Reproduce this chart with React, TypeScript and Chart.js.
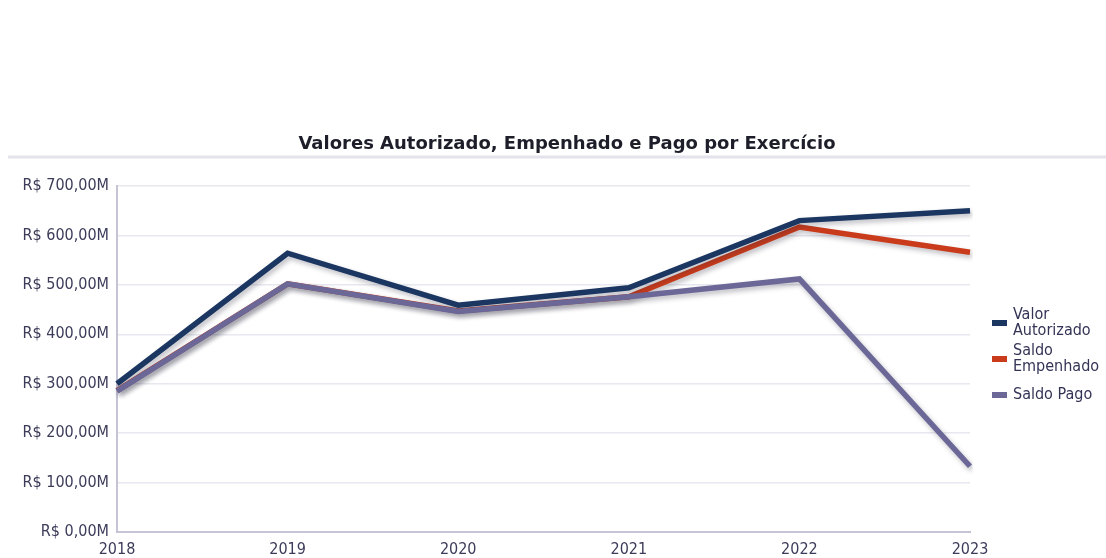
import React, { useEffect, useRef } from "react";
import { Chart, registerables } from "chart.js";

Chart.register(...registerables);

const years = ["2018", "2019", "2020", "2021", "2022", "2023"];
const valorAutorizado = [300, 564, 459, 494, 630, 650];
const saldoEmpenhado = [286, 502, 447, 476, 617, 566];
const saldoPago = [285, 502, 446, 476, 512, 133];
const seriesNames = ["Valor Autorizado", "Saldo Empenhado", "Saldo Pago"];
const seriesColors = ["#1b3661", "#c93b1b", "#6b6898"];
const chartTitle = "Valores Autorizado, Empenhado e Pago por Exercício";
const yMax = 700;
const yStep = 100;

const TICK_FONT = "'DejaVu Sans Condensed', 'DejaVu Sans', sans-serif";

function formatMoney(v: number): string {
  return "R$ " + v.toFixed(2).replace(".", ",") + "M";
}

const decorPlugin = {
  id: "decor",
  beforeDatasetsDraw(chart: any) {
    const ctx = chart.ctx;
    ctx.save();
    ctx.shadowColor = "rgba(40,40,60,0.3)";
    ctx.shadowBlur = 5;
    ctx.shadowOffsetX = 2;
    ctx.shadowOffsetY = 3;
  },
  afterDatasetsDraw(chart: any) {
    chart.ctx.restore();
  },
  afterDraw(chart: any) {
    const ctx = chart.ctx;
    const area = chart.chartArea;
    ctx.save();
    // title
    ctx.fillStyle = "#1e1e2a";
    ctx.font = "bold 18px 'DejaVu Sans', sans-serif";
    ctx.textAlign = "center";
    ctx.textBaseline = "middle";
    ctx.fillText(chartTitle, 567, 144);
    // separator
    ctx.strokeStyle = "#e3e3ec";
    ctx.lineWidth = 3;
    ctx.beginPath();
    ctx.moveTo(8, 157);
    ctx.lineTo(chart.width, 157);
    ctx.stroke();
    // legend
    ctx.font = "16px " + TICK_FONT;
    ctx.textAlign = "left";
    ctx.textBaseline = "middle";
    const ds = chart.data.datasets;
    const itemGap = 36;
    const lineH = 16.5;
    const centerY = (area.top + area.bottom) / 2;
    const startY = centerY - ((ds.length - 1) * itemGap) / 2;
    ds.forEach((d: any, i: number) => {
      const cy = startY + i * itemGap;
      const words = String(d.label).split(" ");
      const lines: string[] = [];
      let cur = "";
      words.forEach((w) => {
        const t = cur ? cur + " " + w : w;
        if (cur && ctx.measureText(t).width > 92) {
          lines.push(cur);
          cur = w;
        } else cur = t;
      });
      if (cur) lines.push(cur);
      ctx.fillStyle = d.borderColor;
      ctx.fillRect(992, cy - 3, 15, 6);
      ctx.fillStyle = "#333356";
      lines.forEach((ln, k) => {
        const y = cy + (k - (lines.length - 1) / 2) * lineH;
        ctx.fillText(ln, 1013, y);
      });
    });
    ctx.restore();
  },
};

export default function App() {
  const ref = useRef<HTMLCanvasElement | null>(null);
  useEffect(() => {
    document.body.style.margin = "0";
    const canvas = ref.current!;
    const chart = new Chart(canvas, {
      type: "line",
      data: {
        labels: years,
        datasets: [
          {
            label: seriesNames[0],
            data: valorAutorizado,
            borderColor: seriesColors[0],
            backgroundColor: seriesColors[0],
            borderWidth: 5.5,
            pointRadius: 0,
            tension: 0,
            order: 1,
          },
          {
            label: seriesNames[1],
            data: saldoEmpenhado,
            borderColor: seriesColors[1],
            backgroundColor: seriesColors[1],
            borderWidth: 5.5,
            pointRadius: 0,
            tension: 0,
            order: 2,
          },
          {
            label: seriesNames[2],
            data: saldoPago,
            borderColor: seriesColors[2],
            backgroundColor: seriesColors[2],
            borderWidth: 5.5,
            pointRadius: 0,
            tension: 0,
            order: 0,
          },
        ],
      },
      options: {
        responsive: false,
        animation: false,
        maintainAspectRatio: false,
        layout: { padding: { top: 186, left: 0, right: 136, bottom: 0 } },
        plugins: {
          legend: { display: false },
          title: { display: false },
          tooltip: { enabled: false },
        },
        scales: {
          x: {
            offset: false,
            grid: { display: false, drawTicks: false },
            border: { display: true, color: "#c4c4d6", width: 2 },
            ticks: {
              padding: 8,
              color: "#3c3c5a",
              font: { family: TICK_FONT, size: 16 },
              maxRotation: 0,
            },
            afterFit(scale: any) {
              scale.height = 30;
            },
          },
          y: {
            min: 0,
            max: yMax,
            grid: { color: "#e8e8f0", lineWidth: 1.5, drawTicks: false },
            border: { display: true, color: "#c4c4d6", width: 2 },
            ticks: {
              stepSize: yStep,
              padding: 8,
              color: "#3c3c5a",
              font: { family: TICK_FONT, size: 16 },
              callback: (v: any) => formatMoney(Number(v)),
            },
            afterFit(scale: any) {
              scale.width = 117;
            },
          },
        },
      },
      plugins: [decorPlugin],
    });
    return () => chart.destroy();
  }, []);
  return (
    <div style={{ position: "absolute", left: 0, top: 0, width: 1106, height: 562 }}>
      <canvas ref={ref} width={1106} height={562} style={{ display: "block", width: 1106, height: 562 }} />
    </div>
  );
}
